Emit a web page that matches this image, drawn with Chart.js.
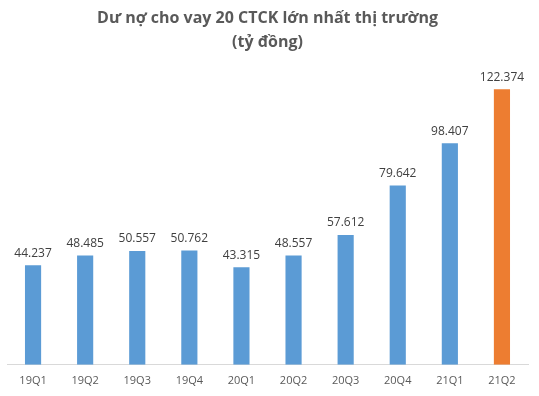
<!DOCTYPE html>
<html>
<head>
<meta charset="utf-8">
<script src="https://cdn.jsdelivr.net/npm/chart.js@4"></script>
<style>
  body { margin: 0; background: #fff; }
  #wrap { width: 539px; height: 396px; }
</style>
</head>
<body>
<div id="wrap"><canvas id="myChart" width="539" height="396"></canvas></div>
<script>
// categories
const quarters = ['19Q1', '19Q2', '19Q3', '19Q4', '20Q1', '20Q2', '20Q3', '20Q4', '21Q1', '21Q2'];

// loans outstanding (ty dong)
const loans = [44237, 48485, 50557, 50762, 43315, 48557, 57612, 79642, 98407, 122374];

// last quarter highlighted
const barColors = ['#5b9bd5', '#5b9bd5', '#5b9bd5', '#5b9bd5', '#5b9bd5', '#5b9bd5', '#5b9bd5', '#5b9bd5', '#5b9bd5', '#ed7d31'];

// value labels with dot as thousands separator
function fmt(v) {
    return String(v).replace(/\B(?=(\d{3})+(?!\d))/g, '.');
}

const valueLabels = {
    id: 'valueLabels',
    afterDatasetsDraw(chart) {
        const ctx = chart.ctx;
        const meta = chart.getDatasetMeta(0);
        ctx.save();
        ctx.font = '12px "Open Sans", sans-serif';
        ctx.fillStyle = '#404040';
        ctx.textAlign = 'center';
        ctx.textBaseline = 'bottom';
        meta.data.forEach((bar, i) => {
            ctx.fillText(fmt(loans[i]), bar.x, bar.y - 6);
        });
        ctx.restore();
    }
};

const ctx = document.getElementById('myChart').getContext('2d');
const myChart = new Chart(ctx, {
    type: 'bar',
    data: {
        labels: quarters,
        datasets: [{
            data: loans,
            backgroundColor: barColors,
            categoryPercentage: 1,
            barPercentage: 0.31
        }]
    },
    options: {
        responsive: false,
        animation: false,
        layout: { padding: { left: 7, right: 11, top: 6, bottom: 0 } },
        plugins: {
            legend: { display: false },
            tooltip: { enabled: false },
            title: {
                display: true,
                text: ['Dư nợ cho vay 20 CTCK lớn nhất thị trường', '(tỷ đồng)'],
                color: '#595959',
                font: { family: '"Open Sans", sans-serif', size: 16, weight: 'bold', lineHeight: 1.5 },
                padding: { top: 0, bottom: 4 }
            }
        },
        scales: {
            x: {
                grid: { display: false, drawTicks: false },
                border: { color: '#d9d9d9', width: 1 },
                ticks: { color: '#595959', font: { family: '"Open Sans", sans-serif', size: 11 }, padding: 9 }
            },
            y: {
                display: false,
                min: 0,
                max: 136200
            }
        }
    },
    plugins: [valueLabels]
});
</script>
</body>
</html>
